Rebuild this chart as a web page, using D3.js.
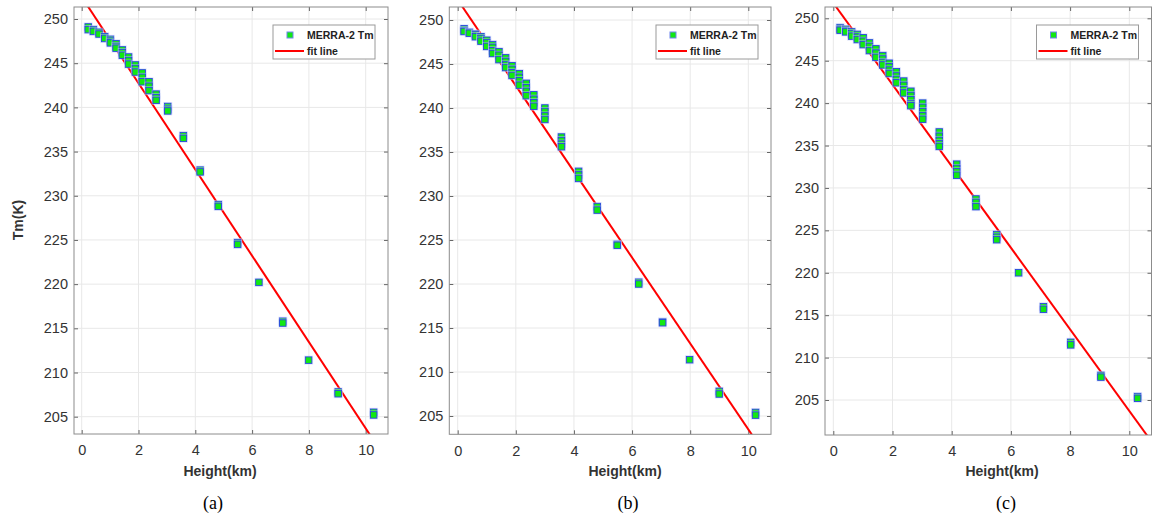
<!DOCTYPE html>
<html>
<head>
<meta charset="utf-8">
<script src="https://cdn.jsdelivr.net/npm/d3@7"></script>
<style>
  body { margin: 0; background: #fff; }
  svg { display: block; font-family: "Liberation Sans", Arial, sans-serif; }
</style>
</head>
<body>
<svg id="chart"></svg>
<script>
const xTicks = [0, 2, 4, 6, 8, 10];
const yTicks = [205, 210, 215, 220, 225, 230, 235, 240, 245, 250];
const seriesName = 'MERRA-2 Tm';
const fitName = 'fit line';
const xTitle = 'Height(km)';
const yTitle = 'Tm(K)';

// panel (a)
const heightsA = [0.23, 0.41, 0.61, 0.81, 1.01, 1.21, 1.43, 1.65, 1.89, 2.13, 2.37, 2.62, 3.03, 3.58, 4.17, 4.81, 5.49, 6.24, 7.08, 7.99, 9.03, 10.28];
const tmA = [
  [249.1, 248.8], [248.8, 248.6], [248.5, 248.3], [248.0, 247.8], [247.7, 247.5, 247.3],
  [247.2, 246.9, 246.7], [246.5, 246.2, 245.9], [245.7, 245.3, 244.9], [244.8, 244.4, 244.0],
  [243.9, 243.4, 242.9], [242.9, 242.4, 241.9], [241.5, 241.1, 240.8], [240.1, 239.8, 239.6],
  [236.8, 236.5], [232.9, 232.7], [229.0, 228.8], [224.7, 224.5], [220.2], [215.8, 215.6],
  [211.4], [207.8, 207.6], [205.5, 205.2]
];
const fitA = [[0, 252.5], [11, 198.8]];

// panel (b)
const heightsB = [0.22, 0.40, 0.61, 0.80, 1.00, 1.20, 1.42, 1.65, 1.87, 2.12, 2.36, 2.62, 3.00, 3.57, 4.16, 4.80, 5.49, 6.23, 7.05, 7.98, 9.00, 10.25];
const tmB = [
  [249.0, 248.8, 248.7], [248.6, 248.5], [248.4, 248.3, 248.1], [248.1, 247.9, 247.6],
  [247.7, 247.4, 247.0], [247.2, 246.9, 246.5, 246.2], [246.4, 246.0, 245.5],
  [245.7, 245.3, 244.9, 244.6], [244.8, 244.4, 244.0, 243.7], [243.9, 243.5, 243.1, 242.6],
  [242.8, 242.3, 241.9, 241.4], [241.5, 241.0, 240.6, 240.2], [240.0, 239.6, 239.1, 238.7],
  [236.7, 236.3, 235.9, 235.6], [232.8, 232.4, 232.0], [228.8, 228.4], [224.5, 224.4],
  [220.2, 220.0], [215.7, 215.6], [211.4], [207.8, 207.5], [205.4, 205.1]
];
const fitB = [[0, 252.3], [11, 198.6]];

// panel (c)
const heightsC = [0.23, 0.42, 0.62, 0.81, 1.01, 1.22, 1.44, 1.67, 1.89, 2.13, 2.38, 2.62, 3.02, 3.58, 4.17, 4.82, 5.52, 6.26, 7.10, 8.02, 9.04, 10.28];
const tmC = [
  [248.9, 248.7, 248.6], [248.7, 248.5, 248.4], [248.4, 248.2, 247.9], [248.1, 247.8, 247.5],
  [247.7, 247.3, 246.9], [247.1, 246.7, 246.2], [246.4, 245.9, 245.4], [245.6, 245.2, 244.8, 244.5],
  [244.7, 244.3, 243.9, 243.5], [243.7, 243.2, 242.8, 242.4], [242.6, 242.1, 241.6, 241.2],
  [241.4, 240.9, 240.4, 239.9, 239.7], [240.0, 239.5, 239.0, 238.5, 238.1],
  [236.6, 236.1, 235.6, 235.2, 234.9], [232.8, 232.3, 231.9, 231.5], [228.7, 228.3, 227.8],
  [224.5, 224.2, 223.9], [220.0], [216.0, 215.7], [211.8, 211.5], [207.9, 207.7], [205.4, 205.2]
];
const fitC = [[0, 251.8], [11, 198.9]];

const panels = [
  { box: [74, 7, 388, 434], xPx: [81.7, 365.7], yPx: [416.7, 19], heights: heightsA, tm: tmA, fit: fitA,
    caption: '(a)', titleX: 220, captionX: 213, showY: true },
  { box: [449.3, 7, 771, 434.3], xPx: [457.7, 748.3], yPx: [416, 20], heights: heightsB, tm: tmB, fit: fitB,
    caption: '(b)', titleX: 625, captionX: 628, showY: false },
  { box: [825, 7, 1151.5, 435], xPx: [833.3, 1129.3], yPx: [400, 18.3], heights: heightsC, tm: tmC, fit: fitC,
    caption: '(c)', titleX: 1002, captionX: 1006, showY: false }
];

const svg = d3.select('#chart')
  .attr('width', 1152)
  .attr('height', 519);

const green = '#12e812';
const blue = '#2a46e0';

panels.forEach((p, i) => drawPanel(p, i));

function drawPanel(p, i) {
  const [left, top, right, bottom] = p.box;
  const x = d3.scaleLinear().domain([0, 10]).range(p.xPx);
  const y = d3.scaleLinear().domain([205, 250]).range(p.yPx);

  // grid
  const grid = svg.append('g');
  grid.selectAll('.gx').data(xTicks).join('line')
    .attr('x1', d => x(d)).attr('x2', d => x(d))
    .attr('y1', top).attr('y2', bottom)
    .attr('stroke', '#e8e8e8');
  grid.selectAll('.gy').data(yTicks).join('line')
    .attr('x1', left).attr('x2', right)
    .attr('y1', d => y(d)).attr('y2', d => y(d))
    .attr('stroke', '#e8e8e8');

  // inward ticks on all four sides
  svg.append('g')
    .attr('transform', `translate(0,${bottom})`)
    .call(d3.axisBottom(x).tickValues(xTicks).tickSize(-4).tickPadding(11))
    .call(styleAxis);
  svg.append('g')
    .attr('transform', `translate(0,${top})`)
    .call(d3.axisTop(x).tickValues(xTicks).tickSize(-4).tickFormat(''))
    .call(styleAxis);
  svg.append('g')
    .attr('transform', `translate(${left},0)`)
    .call(d3.axisLeft(y).tickValues(yTicks).tickSize(-4).tickPadding(6))
    .call(styleAxis);
  svg.append('g')
    .attr('transform', `translate(${right},0)`)
    .call(d3.axisRight(y).tickValues(yTicks).tickSize(-4).tickFormat(''))
    .call(styleAxis);

  const clipId = 'clip' + i;
  svg.append('clipPath').attr('id', clipId)
    .append('rect')
    .attr('x', left).attr('y', top)
    .attr('width', right - left).attr('height', bottom - top);

  // fit line
  svg.append('line')
    .attr('clip-path', `url(#${clipId})`)
    .attr('x1', x(p.fit[0][0])).attr('y1', y(p.fit[0][1]))
    .attr('x2', x(p.fit[1][0])).attr('y2', y(p.fit[1][1]))
    .attr('stroke', '#ff0000')
    .attr('stroke-width', 2);

  // points
  const pts = p.heights.flatMap((h, k) => p.tm[k].map(t => [h, t]));
  const marks = svg.append('g').selectAll('g').data(pts).join('g')
    .attr('transform', d => `translate(${x(d[0])},${y(d[1])})`);
  marks.append('rect')
    .attr('x', -4.5).attr('y', -4.5).attr('width', 9).attr('height', 9)
    .attr('fill', '#c4cff5').attr('opacity', 0.55);
  marks.append('rect')
    .attr('x', -3.25).attr('y', -3.25).attr('width', 6.5).attr('height', 6.5)
    .attr('fill', green).attr('stroke', blue).attr('stroke-width', 0.9);

  // box
  svg.append('rect')
    .attr('x', left).attr('y', top)
    .attr('width', right - left).attr('height', bottom - top)
    .attr('fill', 'none')
    .attr('stroke', '#8c8c8c');

  // legend
  const lg = svg.append('g').attr('transform', `translate(${right - 13 - 102},25)`);
  lg.append('rect').attr('width', 102).attr('height', 34)
    .attr('fill', '#fff').attr('stroke', '#9a9a9a');
  lg.append('rect').attr('x', 14).attr('y', 7).attr('width', 6).attr('height', 6)
    .attr('fill', green).attr('stroke', '#6f86ee');
  lg.append('line').attr('x1', 2).attr('x2', 31).attr('y1', 26).attr('y2', 26)
    .attr('stroke', '#ff0000').attr('stroke-width', 2);
  lg.append('text').attr('x', 34).attr('y', 14)
    .attr('font-size', 10.5).attr('font-weight', 'bold').attr('fill', '#222')
    .text(seriesName);
  lg.append('text').attr('x', 34).attr('y', 30)
    .attr('font-size', 10.5).attr('font-weight', 'bold').attr('fill', '#222')
    .text(fitName);

  // titles
  svg.append('text')
    .attr('x', p.titleX).attr('y', 476)
    .attr('text-anchor', 'middle')
    .attr('font-size', 14).attr('font-weight', 'bold').attr('fill', '#333')
    .text(xTitle);
  if (p.showY) {
    svg.append('text')
      .attr('transform', 'translate(23,220) rotate(-90)')
      .attr('text-anchor', 'middle')
      .attr('font-size', 14).attr('font-weight', 'bold').attr('fill', '#333')
      .text(yTitle);
  }
  svg.append('text')
    .attr('x', p.captionX).attr('y', 509)
    .attr('text-anchor', 'middle')
    .attr('font-family', '"Liberation Serif", "Times New Roman", serif')
    .attr('font-size', 18).attr('fill', '#000')
    .text(p.caption);
}

function styleAxis(g) {
  g.select('.domain').remove();
  g.selectAll('.tick line').attr('stroke', '#666');
  g.selectAll('.tick text')
    .attr('font-size', 14.5)
    .attr('font-family', '"Liberation Sans", Arial, sans-serif')
    .attr('fill', '#333');
}
</script>
</body>
</html>
